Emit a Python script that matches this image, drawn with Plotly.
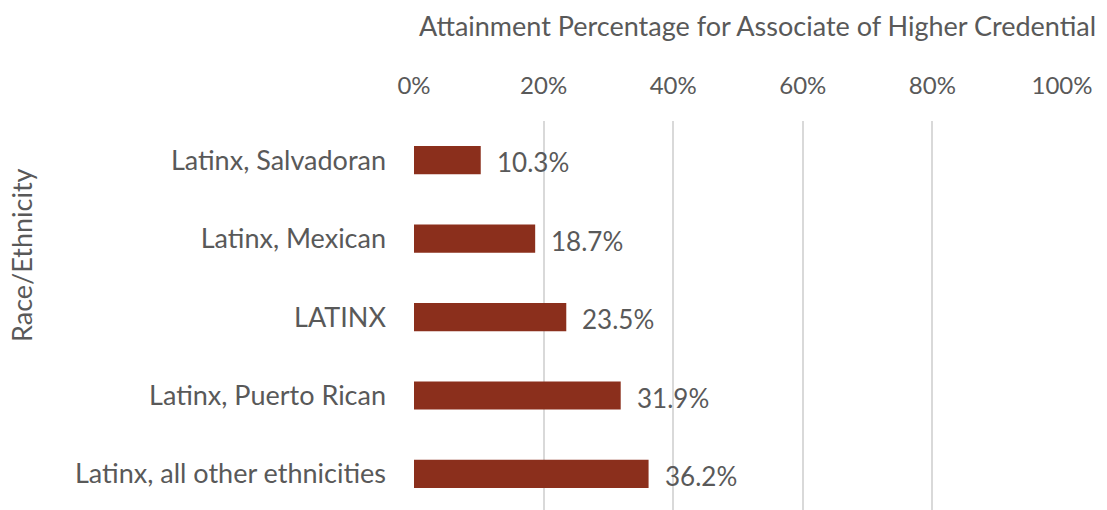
import plotly.graph_objects as go

categories = ["Latinx, Salvadoran", "Latinx, Mexican", "LATINX", "Latinx, Puerto Rican", "Latinx, all other ethnicities"]
values = [10.3, 18.7, 23.5, 31.9, 36.2]
tick_vals = [0, 20, 40, 60, 80, 100]
tick_text = ["0%", "20%", "40%", "60%", "80%", "100%"]
x_title = "Attainment Percentage for Associate of Higher Credential"
y_title = "Race/Ethnicity"

FONT = "Lato"
GREY = "#595959"
BAR = "#8B2F1C"

W, H = 1107, 510
L, R, T, B = 414, 45, 121, 0
pw, ph = W - L - R, H - T - B

def px_to_paper_x(px):
    return (px - L) / pw

def px_to_paper_y(py):
    return (H - B - py) / ph

fig = go.Figure()
fig.add_trace(go.Bar(
    x=values, y=categories, orientation="h",
    marker=dict(color=BAR, line=dict(width=0)),
    width=0.36, hoverinfo="x+y",
))

for c, v in zip(categories, values):
    fig.add_annotation(x=v, y=c, xref="x", yref="y", text=f"{v:.1f}%",
                       showarrow=False, xanchor="left", yanchor="middle",
                       xshift=14, yshift=-2, font=dict(family=FONT, size=26, color=GREY))

fig.add_annotation(x=px_to_paper_x(757), y=px_to_paper_y(26), xref="paper", yref="paper",
                   text=x_title, showarrow=False, xanchor="center", yanchor="middle",
                   font=dict(family=FONT, size=27, color=GREY))

fig.add_annotation(x=px_to_paper_x(22), y=px_to_paper_y(255), xref="paper", yref="paper",
                   text=y_title, showarrow=False, textangle=-90,
                   xanchor="center", yanchor="middle",
                   font=dict(family=FONT, size=27, color=GREY))

fig.update_layout(
    width=W, height=H,
    margin=dict(l=L, r=R, t=T, b=B, pad=0),
    paper_bgcolor="white", plot_bgcolor="white",
    showlegend=False,
    font=dict(family=FONT, size=24, color=GREY),
    xaxis=dict(
        side="top", range=[0, 100], tickvals=tick_vals, ticktext=tick_text,
        showgrid=True, gridcolor="#D9D9D9", gridwidth=1.5, zeroline=False,
        showline=False, ticks="", ticklabelstandoff=21,
        tickfont=dict(family=FONT, size=24, color=GREY), fixedrange=True,
    ),
    yaxis=dict(
        type="category", categoryorder="array", categoryarray=categories,
        range=[4.46, -0.5], showgrid=False, zeroline=False, showline=False,
        ticks="", ticklabelstandoff=27,
        tickfont=dict(family=FONT, size=27, color=GREY), fixedrange=True,
    ),
)

fig.write_html("out.html", config={"displayModeBar": False},
               post_script="document.body.style.margin='0';document.body.style.overflow='hidden';")
